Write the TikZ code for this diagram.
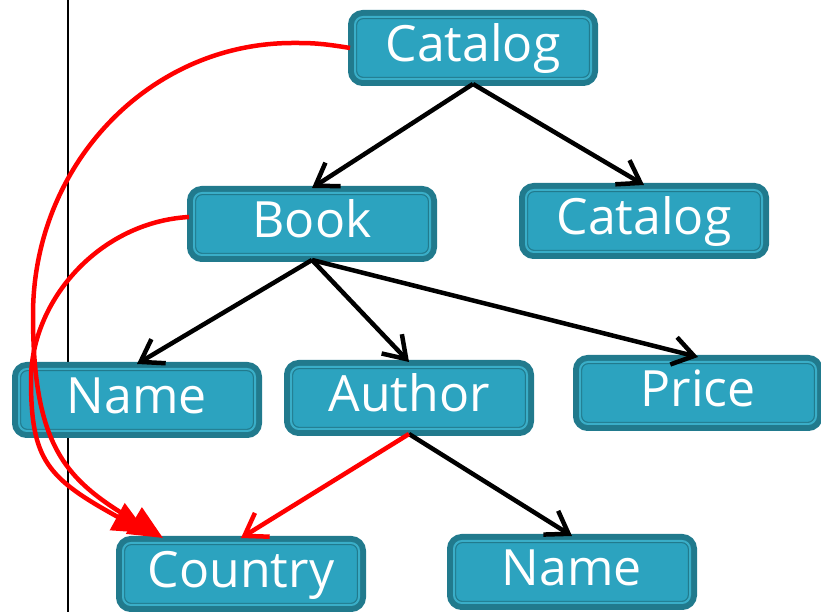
\documentclass[tikz,border=0pt]{standalone}
\usepackage{fontspec}
\setmainfont{Open Sans}
\usetikzlibrary{arrows.meta,calc}

\definecolor{boxedge}{HTML}{217A8D}
\definecolor{boxfill}{HTML}{2CA3BF}
\definecolor{boxstrip}{HTML}{3AAEC8}
\definecolor{linkred}{HTML}{FF0000}

\tikzset{
  treebox/.style={
    rectangle, rounded corners=8pt,
    minimum width=236pt, minimum height=62pt, inner sep=0pt, outer sep=5pt,
    fill=boxfill, draw=boxedge, line width=1.2pt,
    double=boxstrip, double distance=2pt,
    preaction={draw=boxedge, line width=14pt},
    text=white, font=\fontsize{50}{60}\selectfont,
    text height=36pt, text depth=8pt
  },
  child/.style={draw=black, line width=4.5pt,
    -{Straight Barb[length=21pt,width=28pt,line width=4.5pt]}},
  xref/.style={draw=linkred, line width=4.5pt,
    -{Straight Barb[length=21pt,width=28pt,line width=4.5pt]}},
  jump/.style={draw=linkred, line width=4.5pt,
    -{Triangle[length=34pt,width=30pt]}}
}

\begin{document}
\begin{tikzpicture}[x=1pt,y=1pt]
\useasboundingbox (0,0) rectangle (821,612);

% margin rule on the left
\coordinate (ruletop) at (68,612);
\coordinate (rulebot) at (68,0);
\draw[line width=2.5pt] (ruletop) -- (rulebot);

% tree nodes
\node[treebox] (cat)     at (473,564) {Catalog};
\node[treebox] (cat2)    at (644,391) {Catalog};
\node[treebox] (book)    at (312,388) {Book};
\node[treebox] (name1)   at (137,212) {Name};
\node[treebox] (author)  at (409,214) {Author};
\node[treebox] (price)   at (698,219) {Price};
\node[treebox] (country) at (241,38)  {Country};
\node[treebox] (name2)   at (572,40)  {Name};

% parent-child links
\draw[child] (cat.south) -- (book.north);
\draw[child] (cat.south) -- (cat2.north);
\draw[child] (book.south) -- (name1.north);
\draw[child] (book.south) -- (author.north);
\draw[child] (book.south) -- (price.north);
\draw[child] (author.south) -- (name2.north);

% references into Country
\coordinate (hitA) at ($(country.north west)+(45,0)$);
\coordinate (hitB) at ($(country.north west)+(29,5)$);
\draw[xref] (author.south) -- (country.north);
\draw[jump] (cat.west) .. controls (320,569) and (310,569) .. (293,569)
  .. controls (149,569) and (33,447) .. (33,297)
  .. controls (33,162) and (68,131) .. (hitA);
\draw[jump] ([yshift=7pt]book.west) .. controls (100,390) and (31,312) .. (31,232)
  .. controls (31,152) and (47,134) .. (hitB);
\end{tikzpicture}
\end{document}
